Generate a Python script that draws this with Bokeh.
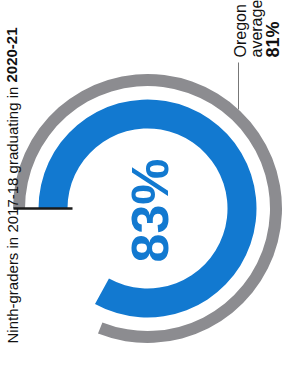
import numpy as np
from bokeh.plotting import figure
from bokeh.core.properties import value
from bokeh.embed import file_html
from bokeh.resources import INLINE

# ---- data ----
series = ["School", "Oregon average"]
rates = [83, 81]                     # percent graduating
title_main = "Ninth-graders in 2017-18 graduating in "
title_bold = "2020-21"
avg_lines = ["Oregon", "average"]

# ---- style / layout ----
FONT = value("Liberation Sans")
BLUE = "#1279D0"
GREY = "#8C8C90"
cx, cy = 155, -216
rings = {"School": (80, 109, BLUE), "Oregon average": (122.5, 134.5, GREY)}

p = figure(width=283, height=344, x_range=(8, 291), y_range=(-352, -8),
           output_backend="svg", toolbar_location=None, min_border=0,
           x_axis_location=None, y_axis_location=None)
p.grid.visible = False
p.outline_line_color = None
p.background_fill_color = "white"
p.border_fill_color = "white"

start = np.pi
for name, v in zip(series, rates):
    r0, r1, col = rings[name]
    p.annular_wedge(x=cx, y=cy, inner_radius=r0, outer_radius=r1,
                    start_angle=start, end_angle=start - 2 * np.pi * v / 100,
                    direction="clock", fill_color=col, line_color=None)

# start marker
g_out = rings["Oregon average"][1]
b_in = rings["School"][0]
p.segment(x0=cx - g_out + 0.5, y0=cy, x1=cx - b_in + 5, y1=cy,
          line_color="#1a1a1a", line_width=2.5)

# leader line to average ring
lx = 246
ly_end = cy + np.sqrt(g_out ** 2 - (lx - cx) ** 2)
p.segment(x0=lx, y0=-70, x1=lx, y1=ly_end, line_color="#777777", line_width=1)

# centre value
p.text(x=[cx + 2], y=[cy - 2], text=[f"{rates[0]}%"], angle=np.pi / 2,
       text_align="center", text_baseline="middle", text_font=FONT,
       text_font_size="52px", text_font_style="bold", text_color=BLUE)

# average label
p.text(x=[248, 264], y=[-65, -65], text=avg_lines, angle=np.pi / 2,
       text_align="left", text_baseline="alphabetic", text_font=FONT,
       text_font_size="16px", text_color="#111111")
p.text(x=[280], y=[-65], text=[f"{rates[1]}%"], angle=np.pi / 2,
       text_align="left", text_baseline="alphabetic", text_font=FONT,
       text_font_size="18px", text_font_style="bold", text_color="#111111")

# title, reading bottom to top along the left edge
title_size = 15
main_width = 17.397 * title_size      # advance width of title_main (Arial metrics)
p.text(x=[19.5], y=[-351], text=[title_main], angle=np.pi / 2,
       text_align="left", text_baseline="alphabetic", text_font=FONT,
       text_font_size=f"{title_size}px", text_color="#111111")
p.text(x=[19.5], y=[-351 + main_width], text=[title_bold], angle=np.pi / 2,
       text_align="left", text_baseline="alphabetic", text_font=FONT,
       text_font_size=f"{title_size}px", text_font_style="bold",
       text_color="#111111")

open("out.html", "w").write(file_html(p, INLINE))
